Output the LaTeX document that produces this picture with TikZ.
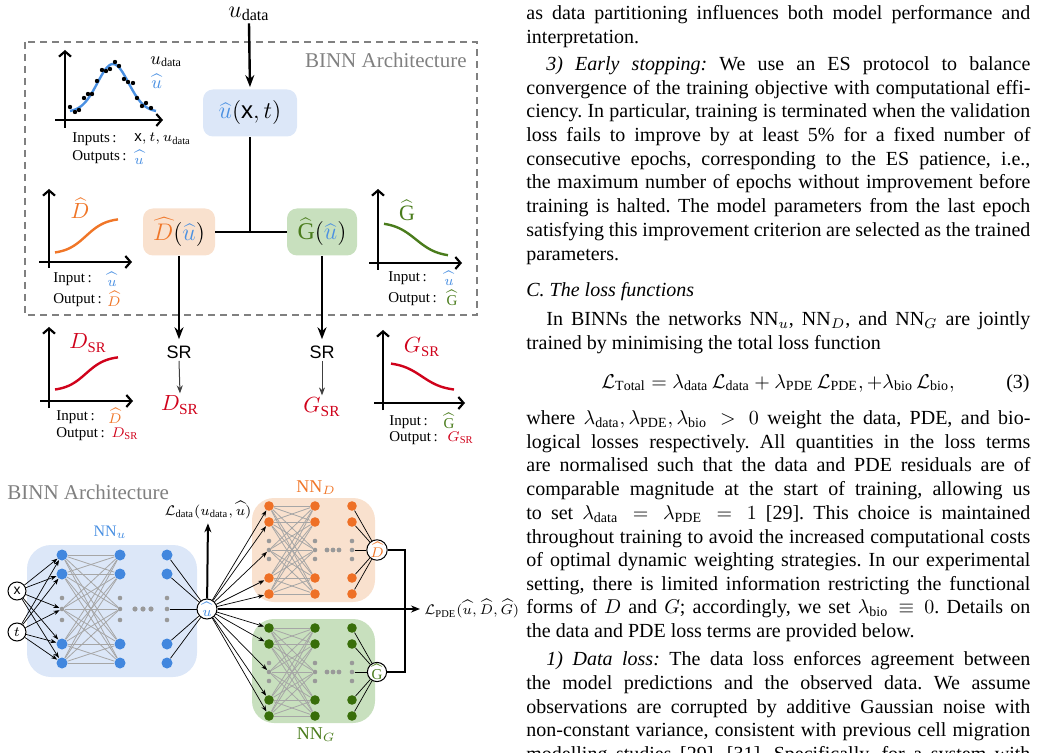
\documentclass[tikz,border=0pt]{standalone}
\usepackage{fontspec}
\setmainfont{Liberation Serif}
\setsansfont{Liberation Sans}
\usetikzlibrary{arrows.meta}
\definecolor{blueC}{RGB}{74,144,226}
\definecolor{blueBG}{RGB}{220,231,248}
\definecolor{blueN}{RGB}{66,135,222}
\definecolor{orangeC}{RGB}{240,118,40}
\definecolor{orangeBG}{RGB}{249,225,206}
\definecolor{orangeN}{RGB}{238,112,38}
\definecolor{greenT}{RGB}{74,124,28}
\definecolor{greenBG}{RGB}{200,224,190}
\definecolor{greenN}{RGB}{56,110,10}
\definecolor{redC}{RGB}{208,2,27}
\frenchspacing
\newcommand{\jl}[1]{\makebox[252pt][s]{#1}}
\newcommand{\jli}[1]{\makebox[242pt][s]{#1}}
\def\bnsize{5pt}
\newcommand{\mynet}[9]{%
 \foreach \L/\xx in {1/#3,2/#4,3/#5}{%
  \node[bignode, fill=#6] (#1-\L-a) at (\xx,#2-#7) {};
  \node[bignode, fill=#6] (#1-\L-b) at (\xx,#2-#8) {};
  \node[smallnode] (#1-\L-c) at (\xx,#2-#9) {};
  \node[smallnode] (#1-\L-d) at (\xx,#2) {};
  \node[smallnode] (#1-\L-e) at (\xx,#2+#9) {};
  \node[bignode, fill=#6] (#1-\L-f) at (\xx,#2+#8) {};
  \node[bignode, fill=#6] (#1-\L-g) at (\xx,#2+#7) {};
 }%
 \foreach \i in {a,b,d,f,g}{\foreach \j in {a,b,d,f,g}{\draw[grayline] (#1-1-\i) -- (#1-2-\j);}}%
}
\tikzset{
 txt/.style={inner sep=0pt, anchor=base west, font=\fontsize{10}{12}\selectfont\frenchspacing},
 lab/.style={inner sep=0pt, font=\fontsize{7.5}{9}\selectfont},
 axisarrow/.style={line width=1.1pt, -{Straight Barb[length=2.6pt,width=6pt]}},
 bigarrow/.style={line width=1.2pt, -{Stealth[length=6pt,width=4.5pt]}},
 thinarrow/.style={line width=0.5pt, draw=black!75, -{Stealth[length=4pt,width=3pt]}},
 boxnode/.style={rounded corners=5pt, minimum height=23.5pt, inner sep=0pt, font=\fontsize{12}{14}\selectfont},
 netarrow/.style={line width=0.35pt, -{Stealth[length=3pt,width=2.2pt]}},
 netline/.style={line width=0.35pt},
 grayline/.style={line width=0.4pt, draw=black!35},
 bignode/.style={circle, inner sep=0pt, minimum size=\bnsize},
 smallnode/.style={circle, fill=black!40, inner sep=0pt, minimum size=2.3pt},
 outnode/.style={circle, draw, line width=0.5pt, fill=white, inner sep=0pt, minimum size=9pt, font=\fontsize{7.5}{9}\selectfont},
 curve/.style={line width=1.2pt, smooth, samples=50},
}
\begin{document}
\begin{tikzpicture}[x=0.5pt,y=-0.5pt]
\useasboundingbox (0,0) rectangle (1038,753);
% ================= right text column =================
\node[txt] (t1) at (526,20) {\jl{as data partitioning influences both model performance and}};
\node[txt] (t2) at (526,44) {interpretation.};
\node[txt] (t3) at (546,71) {\jli{\textit{3) Early stopping:} We use an ES protocol to balance}};
\node[txt] (t4) at (526,95) {\jl{convergence of the training objective with computational effi-}};
\node[txt] (t5) at (526,118) {\jl{ciency. In particular, training is terminated when the validation}};
\node[txt] (t6) at (526,142) {\jl{loss fails to improve by at least 5\% for a fixed number of}};
\node[txt] (t7) at (526,166) {\jl{consecutive epochs, corresponding to the ES patience, i.e.,}};
\node[txt] (t8) at (526,189) {\jl{the maximum number of epochs without improvement before}};
\node[txt] (t9) at (526,213) {\jl{training is halted. The model parameters from the last epoch}};
\node[txt] (t10) at (526,237) {\jl{satisfying this improvement criterion are selected as the trained}};
\node[txt] (t11) at (526,261) {parameters.};
\node[txt] (t12) at (526,297) {\textit{C. The loss functions}};
\node[txt] (t13) at (546,326) {\jli{In BINNs the networks $\mathrm{NN}_u$, $\mathrm{NN}_D$, and $\mathrm{NN}_G$ are jointly}};
\node[txt] (t14) at (526,350) {trained by minimising the total loss function};
\node[txt, anchor=base] (eq) at (778,388) {$\displaystyle \mathcal{L}_{\mathrm{Total}} = \lambda_{\mathrm{data}}\,\mathcal{L}_{\mathrm{data}} + \lambda_{\mathrm{PDE}}\,\mathcal{L}_{\mathrm{PDE}}, +\lambda_{\mathrm{bio}}\,\mathcal{L}_{\mathrm{bio}},$};
\node[txt, anchor=base east] (eqn) at (1030,388) {(3)};
\node[txt] (t16) at (526,424) {\jl{where $\lambda_{\mathrm{data}}, \lambda_{\mathrm{PDE}}, \lambda_{\mathrm{bio}} > 0$ weight the data, PDE, and bio-}};
\node[txt] (t17) at (526,448) {\jl{logical losses respectively. All quantities in the loss terms}};
\node[txt] (t18) at (526,471) {\jl{are normalised such that the data and PDE residuals are of}};
\node[txt] (t19) at (526,495) {\jl{comparable magnitude at the start of training, allowing us}};
\node[txt] (t20) at (526,519) {\jl{to set $\lambda_{\mathrm{data}} = \lambda_{\mathrm{PDE}} = 1$ [29]. This choice is maintained}};
\node[txt] (t21) at (526,543) {\jl{throughout training to avoid the increased computational costs}};
\node[txt] (t22) at (526,566) {\jl{of optimal dynamic weighting strategies. In our experimental}};
\node[txt] (t23) at (526,590) {\jl{setting, there is limited information restricting the functional}};
\node[txt] (t24) at (526,613) {\jl{forms of $D$ and $G$; accordingly, we set $\lambda_{\mathrm{bio}} \equiv 0$. Details on}};
\node[txt] (t25) at (526,637) {the data and PDE loss terms are provided below.};
\node[txt] (t26) at (546,665) {\jli{\textit{1) Data loss:} The data loss enforces agreement between}};
\node[txt] (t27) at (526,689) {\jl{the model predictions and the observed data. We assume}};
\node[txt] (t28) at (526,713) {\jl{observations are corrupted by additive Gaussian noise with}};
\node[txt] (t29) at (526,736) {\jl{non-constant variance, consistent with previous cell migration}};
\node[txt] (t30) at (526,760) {\jl{modelling studies [29], [31]. Specifically, for a system with}};
% ================= top diagram =================
\draw[dash pattern=on 3.5pt off 2.5pt, draw=black!50, line width=0.6pt] (25,42) rectangle (477,315);
\node[anchor=east, text=black!50, font=\fontsize{10.5}{12}\selectfont, inner sep=0pt] (binn1) at (467,60) {BINN Architecture};
\node[font=\fontsize{11.5}{13}\selectfont, inner sep=1pt] (udata) at (249,14) {$u_{\mathrm{data}}$};
\node[boxnode, fill=blueBG, minimum width=47pt] (ubox) at (250,113) {$\textcolor{blueC}{\widehat{u}}(\mathsf{x}, t)$};
\draw[bigarrow, shorten >=1pt] (udata.south) -- (ubox.north);
\node[boxnode, fill=orangeBG, minimum width=36pt] (dbox) at (179,232) {$\textcolor{orangeC}{\widehat{D}}(\textcolor{blueC}{\widehat{u}})$};
\node[boxnode, fill=greenBG, minimum width=35pt] (gbox) at (322,232) {$\textcolor{greenT}{\widehat{\mathrm{G}}}(\textcolor{blueC}{\widehat{u}})$};
\coordinate (junc) at (250,232);
\draw[line width=0.6pt] (ubox.south) -- (junc);
\draw[line width=0.6pt] (dbox.east) -- (gbox.west);
\node[font=\sffamily\fontsize{9}{10}\selectfont, inner sep=1pt] (sr1) at (179,352) {SR};
\node[font=\sffamily\fontsize{9}{10}\selectfont, inner sep=1pt] (sr2) at (322,352) {SR};
\draw[bigarrow, shorten >=2pt] (dbox.south) -- (sr1.north);
\draw[bigarrow, shorten >=2pt] (gbox.south) -- (sr2.north);
\node[text=redC, font=\fontsize{11}{13}\selectfont, inner sep=1pt] (dsr) at (180,405) {$D_{\mathrm{SR}}$};
\node[text=redC, font=\fontsize{11}{13}\selectfont, inner sep=1pt] (gsr) at (322,407) {$G_{\mathrm{SR}}$};
\draw[thinarrow] (sr1.south) -- (dsr.north);
\draw[thinarrow] (sr2.south) -- (gsr.north);
% plot u
\draw[axisarrow] (65,128) -- (65,50);
\draw[axisarrow] (55,120) -- (163,120);
\draw[curve, blueC, domain=70:156] plot (\x, {112 - 48*exp(-((\x-113)/22)*((\x-113)/22))});
\foreach \p in {(70,107),(75,112),(79,110),(84,98),(88,94),(92,94),(97,81),(102,70),(106,71),(110,69),(115,62),(119,66),(124,79),(128,82),(133,83),(137,98),(142,106),(146,103),(151,108)}
  \fill \p circle[radius=1.1pt];
\node[anchor=west, font=\fontsize{9}{10}\selectfont, inner sep=0pt] (lu1) at (150,62) {$u_{\mathrm{data}}$};
\node[anchor=west, font=\fontsize{9}{10}\selectfont, inner sep=0pt] (lu2) at (151,81) {$\textcolor{blueC}{\widehat{u}}$};
\node[lab, anchor=west] (in1) at (72,139) {Inputs\,:};
\node[lab, anchor=west] (in1v) at (134,139) {$\mathsf{x}, t, u_{\mathrm{data}}$};
\node[lab, anchor=west] (out1) at (72,157) {Outputs\,:};
\node[lab, anchor=west] (out1v) at (134,157) {$\textcolor{blueC}{\widehat{u}}$};
% plot D
\draw[axisarrow] (49,268) -- (49,189);
\draw[axisarrow] (39,262) -- (132,262);
\draw[curve, orangeC, domain=55:118] plot (\x, {254 - 36/(1+exp(-(\x-86)/10))});
\node[text=orangeC, font=\fontsize{11}{13}\selectfont, inner sep=0pt] (ld) at (80,208) {$\widehat{D}$};
\node[lab, anchor=west] (in2) at (53,279) {Input\,:};
\node[lab] (in2v) at (112,279) {$\textcolor{blueC}{\widehat{u}}$};
\node[lab, anchor=west] (out2) at (53,300) {Output\,:};
\node[lab] (out2v) at (114,299) {$\textcolor{orangeC}{\widehat{D}}$};
% plot G
\draw[axisarrow] (378,270) -- (378,189);
\draw[axisarrow] (369,263) -- (462,263);
\draw[curve, greenT, domain=384:448] plot (\x, {222 + 35/(1+exp(-(\x-416)/11))});
\node[text=greenT, font=\fontsize{11}{13}\selectfont, inner sep=0pt] (lg) at (407,210) {$\widehat{\mathrm{G}}$};
\node[lab, anchor=west] (in3) at (388,278) {Input\,:};
\node[lab] (in3v) at (449,278) {$\textcolor{blueC}{\widehat{u}}$};
\node[lab, anchor=west] (out3) at (388,299) {Output\,:};
\node[lab] (out3v) at (452,298) {$\textcolor{greenT}{\widehat{\mathrm{G}}}$};
% plot D_SR
\draw[axisarrow] (49,408) -- (49,327);
\draw[axisarrow] (40,401) -- (133,401);
\draw[curve, redC, domain=55:118] plot (\x, {391 - 35/(1+exp(-(\x-86)/10))});
\node[text=redC, font=\fontsize{10.5}{12}\selectfont, inner sep=0pt] (ldsr) at (88,343) {$D_{\mathrm{SR}}$};
\node[lab, anchor=west] (in4) at (56,417) {Input\,:};
\node[lab] (in4v) at (115,416) {$\textcolor{orangeC}{\widehat{D}}$};
\node[lab, anchor=west] (out4) at (56,434) {Output\,:};
\node[lab, anchor=west] (out4v) at (111,434) {$\textcolor{redC}{D_{\mathrm{SR}}}$};
% plot G_SR
\draw[axisarrow] (383,410) -- (383,330);
\draw[axisarrow] (374,403) -- (465,403);
\draw[curve, redC, domain=391:454] plot (\x, {362 + 29/(1+exp(-(\x-422)/11))});
\node[text=redC, font=\fontsize{10.5}{12}\selectfont, inner sep=0pt] (lgsr) at (422,347) {$G_{\mathrm{SR}}$};
\node[lab, anchor=west] (in5) at (389,422) {Input\,:};
\node[lab] (in5v) at (449,421) {$\textcolor{greenT}{\widehat{\mathrm{G}}}$};
\node[lab, anchor=west] (out5) at (389,438) {Output\,:};
\node[lab, anchor=west] (out5v) at (447,438) {$\textcolor{redC}{G_{\mathrm{SR}}}$};
% ================= network diagram =================
\node[anchor=west, text=black!50, font=\fontsize{10.5}{12}\selectfont, inner sep=0pt] (binn2) at (7,492) {BINN Architecture};
\node[fill=blueBG, rounded corners=12pt, minimum width=85pt, minimum height=66pt, inner sep=0pt] (boxu) at (112,611) {};
\node[fill=orangeBG, rounded corners=11pt, minimum width=61.5pt, minimum height=52pt, inner sep=0pt] (boxd) at (313.5,550) {};
\node[fill=greenBG, rounded corners=11pt, minimum width=61.5pt, minimum height=52pt, inner sep=0pt] (boxg) at (313.5,671) {};
\node[text=blueC, font=\fontsize{8}{9}\selectfont, inner sep=0pt] (lnnu) at (110,532) {$\mathrm{NN}_u$};
\node[text=orangeC, font=\fontsize{9}{10}\selectfont, inner sep=0pt] (lnnd) at (316,488) {$\mathrm{NN}_D$};
\node[text=greenT, font=\fontsize{9}{10}\selectfont, inner sep=0pt] (lnng) at (316,735) {$\mathrm{NN}_G$};
\def\bnsize{5.5pt}
\mynet{u}{609}{62}{120}{167}{blueN}{54}{35}{11}
\def\bnsize{4.8pt}
\mynet{d}{550}{269}{315}{352}{orangeN}{44}{28}{9}
\mynet{g}{672}{269}{315}{352}{greenN}{44}{28}{9}
\foreach \xx in {135,143,151} \fill[black!40] (\xx,609) circle[radius=1.3pt];
\foreach \xx in {327,333,339} \fill[black!40] (\xx,550) circle[radius=1.2pt];
\foreach \xx in {327,333,339} \fill[black!40] (\xx,672) circle[radius=1.2pt];
\node[outnode, font=\sffamily\fontsize{7}{8}\selectfont] (inx) at (17,591) {x};
\node[outnode] (int) at (17,632) {$t$};
\node[outnode, minimum size=10pt] (uhat) at (207,609) {$\textcolor{blueC}{\widehat{u}}$};
\node[outnode] (dhat) at (377,550) {$\textcolor{orangeC}{\widehat{D}}$};
\node[outnode] (ghat) at (377,672) {$\textcolor{greenT}{\widehat{\mathrm{G}}}$};
\foreach \i in {a,b,d,f,g}{
  \draw[netarrow] (inx) -- (u-1-\i);
  \draw[netarrow] (int) -- (u-1-\i);
  \draw[netline] (u-3-\i) -- (uhat);
  \draw[netarrow] (uhat) -- (d-1-\i);
  \draw[netarrow] (uhat) -- (g-1-\i);
  \draw[netline] (d-3-\i) -- (dhat);
  \draw[netline] (g-3-\i) -- (ghat);
}
\node[lab] (ldata) at (208,510) {$\mathcal{L}_{\mathrm{data}}(u_{\mathrm{data}}, \widehat{u})$};
\node[lab, anchor=west] (lpde) at (424,609) {$\mathcal{L}_{\mathrm{PDE}}(\widehat{u}, \widehat{D}, \widehat{G})$};
\draw[line width=1pt, -{Stealth[length=4.5pt,width=3.5pt]}, shorten >=2pt] (uhat) -- (ldata.south);
\draw[line width=1.1pt, -{Stealth[length=4.5pt,width=3.5pt]}, shorten >=2pt] (uhat) -- (lpde.west);
\coordinate (brk) at (405,609);
\draw[line width=1.1pt] (dhat.east) -- (dhat.east -| brk) -- (ghat.east -| brk) -- (ghat.east);
\end{tikzpicture}
\end{document}
